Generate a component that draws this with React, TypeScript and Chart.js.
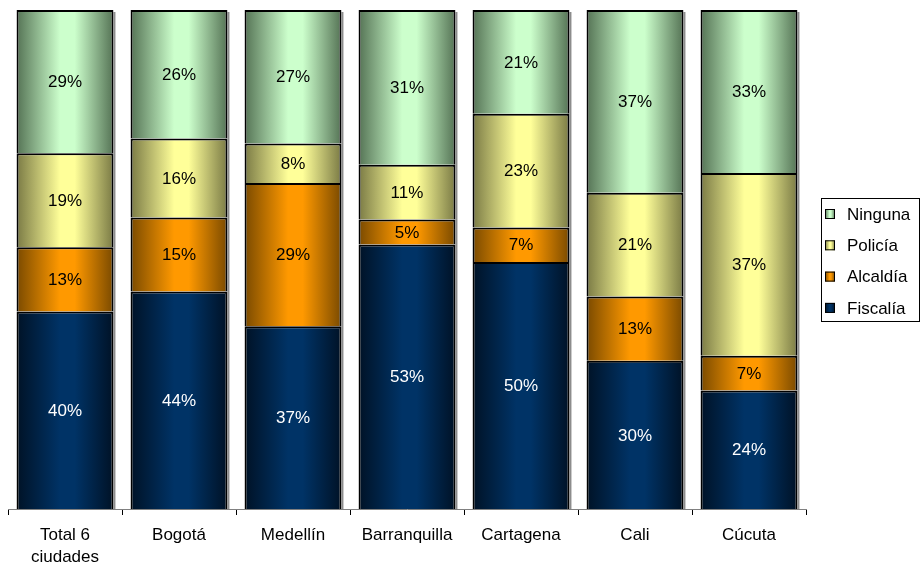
import React, { useEffect, useRef } from "react";
import { Chart, registerables } from "chart.js";

Chart.register(...registerables);

const categories = [["Total 6", "ciudades"], "Bogotá", "Medellín", "Barranquilla", "Cartagena", "Cali", "Cúcuta"];
const fiscalia = [40, 44, 37, 53, 50, 30, 24];
const alcaldia = [13, 15, 29, 5, 7, 13, 7];
const policia = [19, 16, 8, 11, 23, 21, 37];
const ninguna = [29, 26, 27, 31, 21, 37, 33];

const seriesNames = ["Fiscalía", "Alcaldía", "Policía", "Ninguna"];
const seriesValues = [fiscalia, alcaldia, policia, ninguna];
const seriesColors = [
  { dark: "#001226", light: "#003366", text: "#ffffff" },
  { dark: "#7a4a00", light: "#ff9900", text: "#000000" },
  { dark: "#7a7a45", light: "#ffff99", text: "#000000" },
  { dark: "#557355", light: "#ccffcc", text: "#000000" },
];

const totals = categories.map((_, i) => seriesValues.reduce((s, arr) => s + arr[i], 0));

const FONT = "'Liberation Sans', Arial, sans-serif";

function makeGradient(ctx: CanvasRenderingContext2D, x0: number, x1: number, c: { dark: string; light: string }) {
  const g = ctx.createLinearGradient(x0, 0, x1, 0);
  g.addColorStop(0, c.dark);
  g.addColorStop(0.45, c.light);
  g.addColorStop(0.6, c.light);
  g.addColorStop(1, c.dark);
  return g;
}

const shadowPlugin = {
  id: "barShadow",
  beforeDatasetsDraw(chart: any) {
    const ctx = chart.ctx;
    const xs = chart.scales.x;
    const ys = chart.scales.y;
    const bw = (xs.width / categories.length) * 0.85;
    ctx.save();
    ctx.fillStyle = "#8c8c8c";
    categories.forEach((_, i) => {
      const cx = xs.getPixelForValue(i);
      const top = ys.getPixelForValue(100);
      const bot = ys.getPixelForValue(0);
      ctx.fillRect(cx + bw / 2, top + 2, 2, bot - top - 2);
    });
    ctx.restore();
  },
};

const labelPlugin = {
  id: "segLabels",
  afterDatasetsDraw(chart: any) {
    const ctx = chart.ctx;
    ctx.save();
    ctx.font = `17px ${FONT}`;
    ctx.textAlign = "center";
    ctx.textBaseline = "middle";
    chart.data.datasets.forEach((ds: any, di: number) => {
      const meta = chart.getDatasetMeta(di);
      meta.data.forEach((el: any, i: number) => {
        const y = (el.y + el.base) / 2;
        ctx.fillStyle = seriesColors[di].text;
        ctx.fillText(seriesValues[di][i] + "%", el.x, y + 1);
      });
    });
    ctx.restore();
  },
};

const legendPlugin = {
  id: "customLegend",
  afterDraw(chart: any) {
    const ctx = chart.ctx;
    ctx.save();
    const bx = 821.5, by = 198.5, bw = 98, bh = 123;
    ctx.strokeStyle = "#000";
    ctx.lineWidth = 1;
    ctx.strokeRect(bx, by, bw, bh);
    ctx.font = `17px ${FONT}`;
    ctx.textBaseline = "middle";
    ctx.textAlign = "left";
    const order = [3, 2, 1, 0];
    order.forEach((si, k) => {
      const cy = 214 + k * 31.3;
      const sx = 825, sw = 10;
      ctx.fillStyle = makeGradient(ctx, sx, sx + sw, seriesColors[si]);
      ctx.fillRect(sx, cy - 5, sw, sw);
      ctx.strokeStyle = "#000";
      ctx.strokeRect(sx + 0.5, cy - 4.5, sw - 1, sw - 1);
      ctx.fillStyle = "#000";
      ctx.fillText(seriesNames[si], 847, cy + 1);
    });
    ctx.restore();
  },
};

export default function App() {
  const ref = useRef<HTMLCanvasElement | null>(null);
  useEffect(() => {
    if (!ref.current) return;
    const chart = new Chart(ref.current, {
      type: "bar",
      data: {
        labels: categories as any,
        datasets: seriesValues.map((vals, si) => ({
          label: seriesNames[si],
          data: vals.map((v, i) => (v / totals[i]) * 100),
          backgroundColor: (c: any) => {
            const ch = c.chart;
            const xs = ch.scales?.x;
            if (!xs || !ch.chartArea) return seriesColors[si].light;
            const cw = xs.width / categories.length;
            const bw = cw * 0.85;
            const cx = xs.getPixelForValue(c.dataIndex);
            return makeGradient(ch.ctx, cx - bw / 2, cx + bw / 2, seriesColors[si]);
          },
          borderColor: "#000",
          borderWidth: 2,
          categoryPercentage: 0.85,
          barPercentage: 1,
        })),
      },
      options: {
        animation: false,
        responsive: false,
        maintainAspectRatio: false,
        layout: { padding: { left: 8, right: 117, top: 10, bottom: 0 } },
        plugins: { legend: { display: false }, tooltip: { enabled: false } },
        scales: {
          x: {
            stacked: true,
            offset: true,
            grid: {
              offset: true,
              drawOnChartArea: false,
              drawTicks: true,
              tickLength: 6,
              color: "#000",
            },
            border: { display: true, color: "#808080", width: 1 },
            ticks: {
              color: "#000",
              font: { family: FONT, size: 17, lineHeight: 1.3 },
              padding: 9,
              maxRotation: 0,
              autoSkip: false,
            },
            afterFit: (s: any) => {
              s.height = 57;
            },
          },
          y: {
            stacked: true,
            display: false,
            min: 0,
            max: 100,
          },
        },
      },
      plugins: [shadowPlugin, labelPlugin, legendPlugin],
    });
    return () => chart.destroy();
  }, []);
  return (
    <div style={{ position: "fixed", left: 0, top: 0, width: 923, height: 566, background: "#fff" }}>
      <canvas ref={ref} width={923} height={566} style={{ width: 923, height: 566 }} />
    </div>
  );
}
